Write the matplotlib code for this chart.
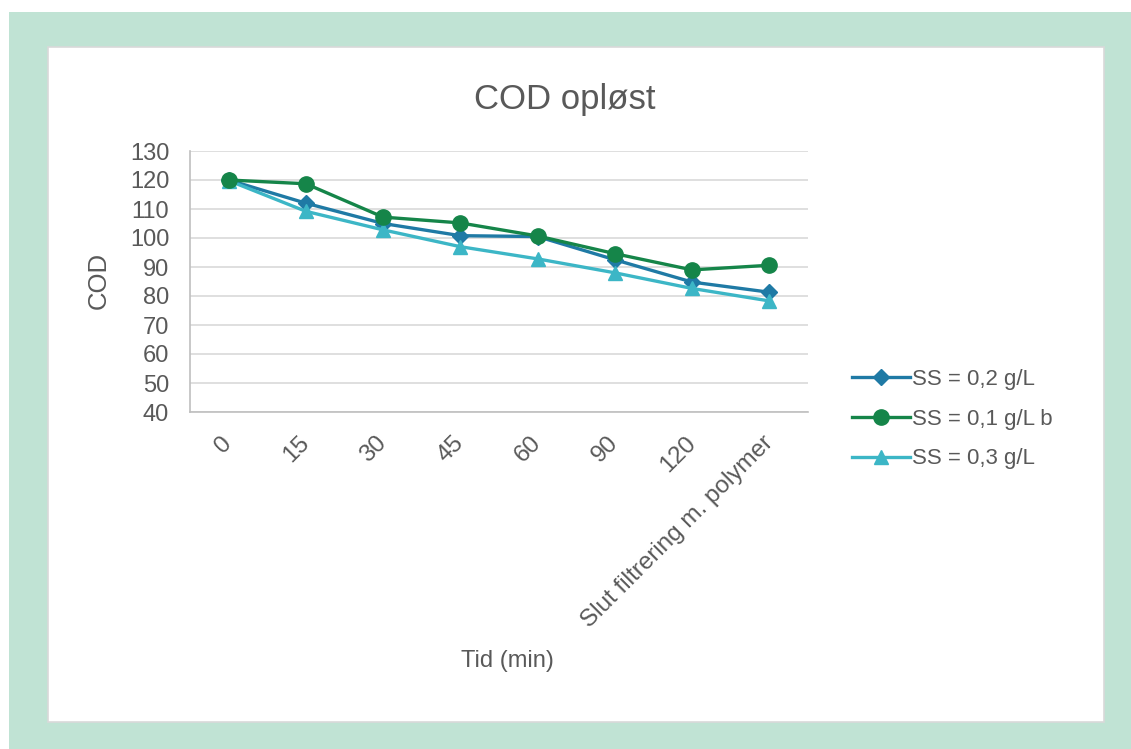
import matplotlib
matplotlib.use("Agg")
import matplotlib.pyplot as plt
from matplotlib.patches import Rectangle

categories = ["0", "15", "30", "45", "60", "90", "120", "Slut filtrering m. polymer"]
ss_02 = [120, 112, 105, 100.8, 100.5, 92.5, 84.8, 81.3]
ss_01b = [120, 118.7, 107.2, 105.2, 100.7, 94.6, 89, 90.6]
ss_03 = [119.8, 109.2, 102.8, 97, 92.8, 88, 82.6, 78.3]
series_names = ["SS = 0,2 g/L", "SS = 0,1 g/L b", "SS = 0,3 g/L"]
y_ticks = [40, 50, 60, 70, 80, 90, 100, 110, 120, 130]

plt.rcParams['font.family'] = ['Liberation Sans', 'DejaVu Sans']
text_col = '#595959'

W, H = 1131, 749
fig = plt.figure(figsize=(W / 100, H / 100), dpi=100)
fig.patch.set_facecolor('white')
# outer green frame and white panel
fig.add_artist(Rectangle((9 / W, 0), 1 - 9 / W, 1 - 12 / H, transform=fig.transFigure,
                         facecolor='#c0e3d4', edgecolor='none', zorder=-2))
fig.add_artist(Rectangle((48 / W, 1 - 722 / H), (1104 - 48) / W, (722 - 47) / H,
                         transform=fig.transFigure, facecolor='white',
                         edgecolor='#d9d9d9', linewidth=1.2, zorder=-1))

ax = fig.add_axes([190 / W, 1 - 412 / H, (808 - 190) / W, (412 - 151) / H])
ax.set_zorder(2)
ax.set_facecolor('none')
x = list(range(len(categories)))
ax.plot(x, ss_02, color='#1f7aa5', lw=2.4, marker='D', ms=8, label=series_names[0], zorder=3)
ax.plot(x, ss_01b, color='#158549', lw=2.4, marker='o', ms=11, label=series_names[1], zorder=4)
ax.plot(x, ss_03, color='#3cb6c6', lw=2.4, marker='^', ms=10, label=series_names[2], zorder=3)

ax.set_xlim(-0.5, len(categories) - 0.5)
ax.set_ylim(40, 130)
ax.set_yticks(y_ticks)
ax.set_yticklabels([str(v) for v in y_ticks], fontsize=17, color=text_col)
ax.set_xticks(x)
ax.set_xticklabels(categories, fontsize=17.5, color=text_col, rotation=45,
                   ha='right', va='center', rotation_mode='anchor')
ax.tick_params(axis='x', length=0, pad=20)
ax.tick_params(axis='y', length=0, pad=15)
ax.grid(axis='y', color='#d9d9d9', lw=1.2)
ax.set_axisbelow(True)
for s in ['top', 'right']:
    ax.spines[s].set_visible(False)
for s in ['left', 'bottom']:
    ax.spines[s].set_color('#bfbfbf')
    ax.spines[s].set_linewidth(1.2)

fig.text(565 / W, 1 - 100 / H, "COD opløst", fontsize=25, color=text_col, ha='center', va='center')
fig.text(99 / W, 1 - 280 / H, "COD", fontsize=18.5, color=text_col, rotation=90, ha='center', va='center')
fig.text(507 / W, 1 - 661 / H, "Tid (min)", fontsize=17, color=text_col, ha='center', va='center')

leg = ax.legend(loc='center left', bbox_to_anchor=(843 / W, 1 - 419 / H), bbox_transform=fig.transFigure,
                frameon=False, fontsize=16, handlelength=2.6, handletextpad=0.1,
                labelspacing=0.85, borderaxespad=0)
for t in leg.get_texts():
    t.set_color(text_col)

fig.savefig("out.png", dpi=100)
